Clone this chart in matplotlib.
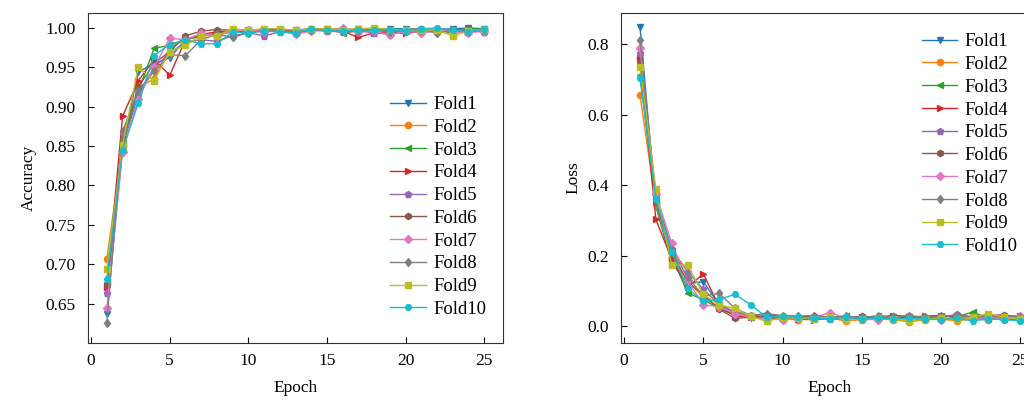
import matplotlib.pyplot as plt
import numpy as np

plt.rcParams['font.family'] = ['Liberation Serif', 'DejaVu Serif']

epochs = list(range(1, 26))
folds = ["Fold1", "Fold2", "Fold3", "Fold4", "Fold5", "Fold6", "Fold7", "Fold8", "Fold9", "Fold10"]
markers = ["v", "o", "<", ">", "p", "h", "D", "d", "s", "H"]

acc1 = [0.637, 0.850, 0.944, 0.955, 0.962, 0.985, 0.990, 0.993, 0.995, 0.996, 0.997, 0.997, 0.998, 0.998, 0.999, 0.997, 0.999, 0.998, 0.999, 0.999, 0.998, 0.998, 0.999, 1.000, 0.999]
acc2 = [0.707, 0.850, 0.925, 0.935, 0.975, 0.985, 0.990, 0.992, 0.995, 0.996, 0.997, 0.997, 0.995, 0.999, 0.998, 0.996, 0.997, 0.998, 0.996, 0.997, 0.999, 0.995, 0.996, 0.998, 0.995]
acc3 = [0.676, 0.855, 0.920, 0.974, 0.978, 0.985, 0.990, 0.993, 0.995, 0.997, 0.996, 0.998, 0.995, 0.997, 0.998, 0.994, 0.996, 0.997, 0.998, 0.996, 0.997, 0.998, 0.993, 0.999, 0.998]
acc4 = [0.671, 0.888, 0.933, 0.960, 0.940, 0.985, 0.992, 0.995, 0.996, 0.997, 0.998, 0.998, 0.996, 0.997, 0.998, 0.996, 0.988, 0.994, 0.995, 0.993, 0.996, 0.997, 0.996, 0.995, 0.997]
acc5 = [0.664, 0.850, 0.915, 0.950, 0.968, 0.982, 0.985, 0.983, 0.990, 0.994, 0.990, 0.995, 0.993, 0.997, 0.996, 0.995, 0.996, 0.994, 0.992, 0.996, 0.995, 0.995, 0.997, 0.996, 0.995]
acc6 = [0.675, 0.860, 0.925, 0.955, 0.970, 0.990, 0.996, 0.998, 0.997, 0.996, 0.999, 0.998, 0.997, 0.999, 0.998, 0.999, 0.997, 0.998, 0.997, 0.998, 0.999, 0.997, 0.998, 0.997, 0.996]
acc7 = [0.645, 0.843, 0.910, 0.950, 0.987, 0.985, 0.993, 0.990, 0.996, 0.998, 0.995, 0.997, 0.992, 0.996, 0.998, 1.000, 0.995, 0.996, 0.991, 0.996, 0.994, 0.998, 0.995, 0.994, 0.996]
acc8 = [0.626, 0.869, 0.920, 0.945, 0.966, 0.965, 0.985, 0.992, 0.988, 0.994, 0.996, 0.997, 0.994, 0.998, 0.997, 0.998, 0.996, 0.997, 0.995, 0.996, 0.998, 0.994, 0.997, 0.996, 0.997]
acc9 = [0.694, 0.852, 0.950, 0.933, 0.970, 0.978, 0.990, 0.990, 0.999, 0.997, 0.999, 0.999, 0.997, 0.999, 0.999, 0.998, 0.999, 1.000, 0.998, 0.997, 0.998, 0.997, 0.990, 0.996, 0.999]
acc10 = [0.681, 0.845, 0.905, 0.965, 0.979, 0.985, 0.980, 0.980, 0.995, 0.994, 0.996, 0.995, 0.994, 0.999, 0.997, 0.996, 0.998, 0.997, 0.998, 0.996, 0.999, 1.000, 0.997, 0.995, 0.999]

loss1 = [0.849, 0.340, 0.180, 0.120, 0.126, 0.060, 0.040, 0.030, 0.025, 0.022, 0.020, 0.024, 0.020, 0.022, 0.018, 0.020, 0.022, 0.025, 0.018, 0.022, 0.020, 0.025, 0.022, 0.018, 0.020]
loss2 = [0.655, 0.345, 0.193, 0.130, 0.080, 0.055, 0.035, 0.028, 0.022, 0.020, 0.018, 0.020, 0.022, 0.015, 0.018, 0.020, 0.018, 0.012, 0.018, 0.020, 0.015, 0.020, 0.018, 0.022, 0.020]
loss3 = [0.712, 0.350, 0.200, 0.094, 0.075, 0.050, 0.030, 0.025, 0.020, 0.025, 0.022, 0.020, 0.025, 0.028, 0.022, 0.030, 0.025, 0.022, 0.020, 0.028, 0.025, 0.040, 0.022, 0.020, 0.022]
loss4 = [0.760, 0.303, 0.190, 0.110, 0.148, 0.055, 0.030, 0.025, 0.020, 0.022, 0.020, 0.018, 0.022, 0.020, 0.025, 0.022, 0.030, 0.025, 0.028, 0.030, 0.025, 0.028, 0.030, 0.025, 0.028]
loss5 = [0.774, 0.370, 0.220, 0.154, 0.105, 0.060, 0.040, 0.030, 0.035, 0.025, 0.030, 0.022, 0.020, 0.022, 0.020, 0.025, 0.022, 0.020, 0.025, 0.022, 0.035, 0.025, 0.022, 0.025, 0.030]
loss6 = [0.750, 0.355, 0.210, 0.125, 0.090, 0.048, 0.022, 0.025, 0.030, 0.028, 0.025, 0.030, 0.025, 0.022, 0.028, 0.025, 0.030, 0.028, 0.025, 0.030, 0.028, 0.025, 0.030, 0.032, 0.025]
loss7 = [0.788, 0.375, 0.235, 0.130, 0.060, 0.055, 0.035, 0.025, 0.020, 0.018, 0.022, 0.025, 0.038, 0.022, 0.020, 0.018, 0.022, 0.020, 0.022, 0.018, 0.020, 0.022, 0.025, 0.020, 0.028]
loss8 = [0.811, 0.360, 0.215, 0.140, 0.085, 0.093, 0.050, 0.030, 0.035, 0.030, 0.028, 0.030, 0.025, 0.028, 0.025, 0.028, 0.025, 0.030, 0.025, 0.028, 0.030, 0.025, 0.028, 0.030, 0.025]
loss9 = [0.736, 0.389, 0.173, 0.173, 0.090, 0.060, 0.050, 0.028, 0.013, 0.025, 0.022, 0.020, 0.025, 0.018, 0.020, 0.022, 0.020, 0.015, 0.020, 0.022, 0.020, 0.025, 0.035, 0.025, 0.020]
loss10 = [0.703, 0.360, 0.210, 0.107, 0.070, 0.076, 0.090, 0.060, 0.025, 0.028, 0.025, 0.022, 0.020, 0.025, 0.020, 0.022, 0.020, 0.022, 0.020, 0.018, 0.022, 0.015, 0.020, 0.018, 0.015]

acc = [acc1, acc2, acc3, acc4, acc5, acc6, acc7, acc8, acc9, acc10]
loss = [loss1, loss2, loss3, loss4, loss5, loss6, loss7, loss8, loss9, loss10]

fig = plt.figure(figsize=(10.24, 4), dpi=100)
ax1 = fig.add_axes([88 / 1024, 57 / 400, 415 / 1024, 330 / 400])
ax2 = fig.add_axes([621 / 1024, 57 / 400, 418 / 1024, 330 / 400])

for i in range(10):
    ax1.plot(epochs, acc[i], marker=markers[i], markersize=4.5, linewidth=1, label=folds[i])
    ax2.plot(epochs, loss[i], marker=markers[i], markersize=4.5, linewidth=1, label=folds[i])

ax1.set_xlim(-0.2, 26.2)
ax1.set_ylim(0.60, 1.019)
ax1.set_yticks([0.65, 0.70, 0.75, 0.80, 0.85, 0.90, 0.95, 1.00])
ax1.set_xticks([0, 5, 10, 15, 20, 25])
ax1.set_xlabel("Epoch", fontsize=12.5, labelpad=8)
ax1.set_ylabel("Accuracy", fontsize=12.5, labelpad=6)

ax2.set_xlim(-0.2, 26.2)
ax2.set_ylim(-0.048, 0.888)
ax2.set_yticks([0.0, 0.2, 0.4, 0.6, 0.8])
ax2.set_xticks([0, 5, 10, 15, 20, 25])
ax2.set_xlabel("Epoch", fontsize=12.5, labelpad=8)
ax2.set_ylabel("Loss", fontsize=12.5, labelpad=4)

for ax in (ax1, ax2):
    ax.tick_params(direction="in", labelsize=12.5, length=4)
    ax.tick_params(axis="y", pad=9)
    ax.tick_params(axis="x", pad=7)
    for s in ax.spines.values():
        s.set_color("#333333")

ax1.legend(loc="lower right", bbox_to_anchor=(1.0, 0.025), frameon=False,
           fontsize=13.5, labelspacing=0.3, handlelength=1.9, handletextpad=0.4)
ax2.legend(loc="upper right", bbox_to_anchor=(0.99, 0.99), frameon=False,
           fontsize=13.5, labelspacing=0.3, handlelength=1.9, handletextpad=0.4)

fig.savefig("out.png", dpi=100)
